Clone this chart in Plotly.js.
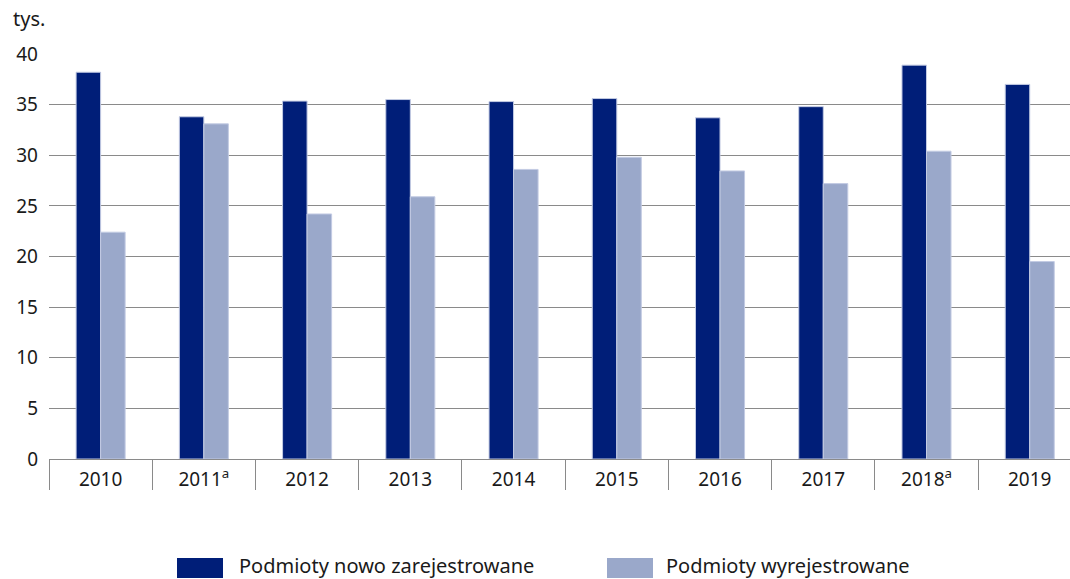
<!DOCTYPE html>
<html>
<head>
<meta charset="utf-8">
<script src="https://cdn.plot.ly/plotly-3.0.1.min.js"></script>
<style>
html,body{margin:0;padding:0;background:#fff;overflow:hidden;}
#chart{width:1070px;height:579px;}
</style>
</head>
<body>
<div id="chart"></div>
<script>
const categories = ['2010','2011<sup>a</sup>','2012','2013','2014','2015','2016','2017','2018<sup>a</sup>','2019'];
const registered = [38.2, 33.8, 35.35, 35.5, 35.3, 35.6, 33.7, 34.8, 38.9, 37.0];
const deregistered = [22.4, 33.1, 24.2, 25.9, 28.6, 29.8, 28.45, 27.2, 30.4, 19.5];
const seriesNames = ['Podmioty nowo zarejestrowane', 'Podmioty wyrejestrowane'];
const yTicks = [0, 5, 10, 15, 20, 25, 30, 35, 40];
const unitLabel = 'tys.';

const colors = ['#001e78', '#9aa8ca'];
const FONT = 'Noto Sans, Open Sans, sans-serif';

const traces = [
  {type:'bar', x:categories, y:registered, name:seriesNames[0],
   marker:{color:colors[0], line:{color:'#c3cbe3', width:1}}, hoverinfo:'y'},
  {type:'bar', x:categories, y:deregistered, name:seriesNames[1],
   marker:{color:colors[1], line:{color:'#c3cbe3', width:1}}, hoverinfo:'y'}
];

const L = 49, T = 54, PW = 1021, PH = 405;
function px2x(p){ return (p - L)/PW; }
function py2y(p){ return 1 - (p - T)/PH; }

const shapes = [
  {type:'rect', xref:'paper', yref:'paper', x0:px2x(177), x1:px2x(223), y0:py2y(578), y1:py2y(558), fillcolor:colors[0], line:{width:0}},
  {type:'rect', xref:'paper', yref:'paper', x0:px2x(607), x1:px2x(653), y0:py2y(578), y1:py2y(558), fillcolor:colors[1], line:{width:0}}
];

const annotations = [
  {xref:'paper', yref:'paper', x:px2x(11), y:py2y(18), xanchor:'left', yanchor:'middle', text:unitLabel, showarrow:false, font:{family:FONT, size:20, color:'#1a1a1a'}},
  {xref:'paper', yref:'paper', x:px2x(237), y:py2y(565), xanchor:'left', yanchor:'middle', text:seriesNames[0], showarrow:false, font:{family:FONT, size:20, color:'#1a1a1a'}},
  {xref:'paper', yref:'paper', x:px2x(664), y:py2y(565), xanchor:'left', yanchor:'middle', text:seriesNames[1], showarrow:false, font:{family:FONT, size:20, color:'#1a1a1a'}}
];

const layout = {
  width:1070, height:579,
  margin:{l:L, r:1070-L-PW, t:T, b:579-T-PH, pad:0},
  paper_bgcolor:'#fff', plot_bgcolor:'#fff',
  barmode:'group', bargap:0.525, bargroupgap:0,
  showlegend:false,
  font:{family:FONT, size:19, color:'#1a1a1a'},
  xaxis:{type:'category', range:[-0.5, 9.39], tickson:'boundaries', ticks:'outside', ticklen:30, tickwidth:1, tickcolor:'#8a8a8a',
         ticklabelstandoff:3, showline:true, linecolor:'#8a8a8a', linewidth:1, showgrid:false, fixedrange:true,
         tickfont:{family:FONT, size:19, color:'#1a1a1a'}},
  yaxis:{range:[0,40], tickvals:yTicks, ticktext:yTicks.map(String), showgrid:true, gridcolor:'#8a8a8a', gridwidth:1,
         zeroline:false, showline:false, ticks:'', ticklabelstandoff:10, fixedrange:true,
         tickfont:{family:FONT, size:19, color:'#1a1a1a'}},
  shapes:shapes,
  annotations:annotations
};

Plotly.newPlot('chart', traces, layout, {displayModeBar:false, staticPlot:true});
</script>
</body>
</html>
